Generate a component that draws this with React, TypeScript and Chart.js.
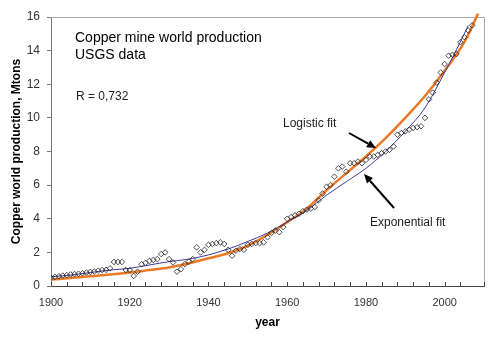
import React, { useEffect, useRef } from "react";
import { Chart, registerables } from "chart.js";
Chart.register(...registerables);

const years = [
  1900, 1901, 1902, 1903, 1904, 1905, 1906, 1907, 1908, 1909,
  1910, 1911, 1912, 1913, 1914, 1915, 1916, 1917, 1918, 1919,
  1920, 1921, 1922, 1923, 1924, 1925, 1926, 1927, 1928, 1929,
  1930, 1931, 1932, 1933, 1934, 1935, 1936, 1937, 1938, 1939,
  1940, 1941, 1942, 1943, 1944, 1945, 1946, 1947, 1948, 1949,
  1950, 1951, 1952, 1953, 1954, 1955, 1956, 1957, 1958, 1959,
  1960, 1961, 1962, 1963, 1964, 1965, 1966, 1967, 1968, 1969,
  1970, 1971, 1972, 1973, 1974, 1975, 1976, 1977, 1978, 1979,
  1980, 1981, 1982, 1983, 1984, 1985, 1986, 1987, 1988, 1989,
  1990, 1991, 1992, 1993, 1994, 1995, 1996, 1997, 1998, 1999,
  2000, 2001, 2002, 2003, 2004, 2005, 2006, 2007,
];

const production = [
  0.5, 0.54, 0.58, 0.62, 0.65, 0.69, 0.71, 0.73, 0.76, 0.8,
  0.84, 0.86, 0.91, 0.95, 0.96, 1.05, 1.43, 1.43, 1.43, 0.95,
  0.95, 0.6, 0.85, 1.3, 1.37, 1.49, 1.55, 1.6, 1.9, 2.0,
  1.6, 1.4, 0.85, 1.0, 1.3, 1.45, 1.6, 2.3, 2.0, 2.15,
  2.45, 2.5, 2.55, 2.6, 2.5, 2.15, 1.8, 2.1, 2.2, 2.15,
  2.45, 2.5, 2.55, 2.55, 2.6, 2.9, 3.15, 3.3, 3.2, 3.5,
  4.0, 4.1, 4.2, 4.3, 4.45, 4.55, 4.6, 4.7, 5.1, 5.5,
  5.9, 6.0, 6.5, 7.0, 7.1, 6.8, 7.3, 7.3, 7.4, 7.3,
  7.5, 7.7, 7.7, 7.8, 7.9, 8.0, 8.1, 8.3, 9.0, 9.1,
  9.2, 9.3, 9.4, 9.45, 9.5, 10.0, 11.1, 11.5, 12.1, 12.7,
  13.2, 13.7, 13.75, 13.8, 14.5, 14.8, 15.2, 15.5,
];

const logisticYears = [
  1900, 1905, 1910, 1915, 1920, 1925, 1930, 1935, 1940, 1945, 1950, 1955,
  1960, 1965, 1970, 1975, 1980, 1985, 1990, 1995, 2000, 2005, 2008.5,
];
const logisticFit = [
  0.38, 0.48, 0.58, 0.68, 0.8, 0.95, 1.1, 1.35, 1.65, 1.95, 2.4, 3.05,
  3.8, 4.6, 5.7, 6.7, 7.7, 8.8, 10.0, 11.3, 12.8, 14.5, 16.2,
];

const exponentialYears = [
  1900, 1905, 1910, 1915, 1920, 1925, 1930, 1935, 1940, 1945, 1950, 1955,
  1960, 1965, 1970, 1975, 1980, 1985, 1990, 1995, 2000, 2005, 2006,
];
const exponentialFit = [
  0.55, 0.65, 0.8, 0.95, 1.05, 1.25, 1.45, 1.6, 1.85, 2.2, 2.65, 3.15,
  3.8, 4.5, 5.4, 6.2, 7.0, 8.0, 9.2, 10.6, 12.7, 15.0, 15.5,
];

const xLabelYears = [1900, 1920, 1940, 1960, 1980, 2000];

const titleLines = ["Copper mine world production", "USGS data"];
const rText = "R = 0,732";
const logisticLabel = "Logistic fit";
const exponentialLabel = "Exponential fit";
const xTitle = "year";
const yTitle = "Copper world production, Mtons";

const FONT = "'Liberation Sans', Arial, sans-serif";

function arrow(ctx: CanvasRenderingContext2D, x1: number, y1: number, x2: number, y2: number) {
  const ang = Math.atan2(y2 - y1, x2 - x1);
  const head = 9;
  const hw = 4;
  const bx = x2 - head * Math.cos(ang);
  const by = y2 - head * Math.sin(ang);
  ctx.save();
  ctx.strokeStyle = "#000";
  ctx.fillStyle = "#000";
  ctx.lineWidth = 2;
  ctx.beginPath();
  ctx.moveTo(x1, y1);
  ctx.lineTo(bx, by);
  ctx.stroke();
  ctx.beginPath();
  ctx.moveTo(x2, y2);
  ctx.lineTo(bx + hw * Math.sin(ang), by - hw * Math.cos(ang));
  ctx.lineTo(bx - hw * Math.sin(ang), by + hw * Math.cos(ang));
  ctx.closePath();
  ctx.fill();
  ctx.restore();
}

const decorPlugin = {
  id: "decor",
  beforeDatasetsDraw(chart: any) {
    const { ctx, chartArea } = chart;
    ctx.save();
    ctx.strokeStyle = "#a8a8a8";
    ctx.lineWidth = 1;
    ctx.beginPath();
    ctx.moveTo(chartArea.left, chartArea.top + 0.5);
    ctx.lineTo(chartArea.right + 0.5, chartArea.top + 0.5);
    ctx.lineTo(chartArea.right + 0.5, chartArea.bottom);
    ctx.stroke();
    // inside x tick marks
    const xs = chart.scales.x;
    ctx.strokeStyle = "#444";
    ctx.beginPath();
    xs.ticks.forEach((t: any) => {
      const px = Math.round(xs.getPixelForValue(t.value)) + 0.5;
      ctx.moveTo(px, chartArea.bottom);
      ctx.lineTo(px, chartArea.bottom - 4);
    });
    ctx.stroke();
    ctx.restore();
  },
  afterDraw(chart: any) {
    const { ctx } = chart;
    ctx.save();
    ctx.fillStyle = "#000";
    ctx.textBaseline = "alphabetic";
    ctx.textAlign = "left";
    ctx.font = `14px ${FONT}`;
    ctx.fillText(titleLines[0], 75, 42);
    ctx.fillText(titleLines[1], 75, 59);
    ctx.font = `12px ${FONT}`;
    ctx.fillStyle = "#222";
    ctx.fillText(rText, 76, 100);
    ctx.fillText(logisticLabel, 283, 127);
    ctx.fillText(exponentialLabel, 370, 226);
    ctx.restore();
    arrow(ctx, 349, 133, 376, 148);
    arrow(ctx, 394, 208, 364, 174);
  },
};

export default function App() {
  const ref = useRef<HTMLCanvasElement | null>(null);
  useEffect(() => {
    if (!ref.current) return;
    const chart = new Chart(ref.current, {
      type: "scatter",
      data: {
        datasets: [
          {
            label: "production",
            data: years.map((y, i) => ({ x: y, y: production[i] })),
            pointStyle: "rectRot",
            pointRadius: 2.8,
            pointBorderWidth: 0.8,
            pointBorderColor: "#222",
            pointBackgroundColor: "rgba(255,255,255,0)",
            showLine: false,
          },
          {
            label: "exponential",
            data: exponentialYears.map((y, i) => ({ x: y, y: exponentialFit[i] })),
            showLine: true,
            borderColor: "#3c3c9c",
            borderWidth: 1,
            pointRadius: 0,
            cubicInterpolationMode: "monotone",
          },
          {
            label: "logistic",
            data: logisticYears.map((y, i) => ({ x: y, y: logisticFit[i] })),
            showLine: true,
            borderColor: "#ea7a26",
            borderWidth: 2.5,
            pointRadius: 0,
            cubicInterpolationMode: "monotone",
            clip: false,
          },
        ],
      } as any,
      options: {
        animation: false,
        responsive: false,
        devicePixelRatio: 1,
        layout: { padding: { left: 0, top: 17, right: 16, bottom: 0 } },
        plugins: { legend: { display: false }, tooltip: { enabled: false } },
        scales: {
          x: {
            type: "linear",
            min: 1900,
            max: 2010,
            afterFit: (s: any) => {
              s.height = 54;
            },
            border: { display: true, color: "#444", width: 1 },
            grid: { display: false, drawTicks: false },
            ticks: {
              stepSize: 4,
              autoSkip: false,
              maxRotation: 0,
              padding: 10,
              color: "#333",
              font: { family: FONT, size: 11 },
              callback: (v: any) => (xLabelYears.includes(Number(v)) ? String(v) : ""),
            },
            title: {
              display: true,
              text: xTitle,
              color: "#000",
              font: { family: FONT, size: 12, weight: "bold" },
              padding: { top: 0, bottom: 10 },
            },
          },
          y: {
            min: 0,
            max: 16,
            afterFit: (s: any) => {
              s.width = 51;
            },
            border: { display: true, color: "#777", width: 1 },
            grid: { drawOnChartArea: false, drawTicks: true, tickLength: 4, color: "#777" },
            ticks: {
              stepSize: 2,
              padding: 7,
              color: "#333",
              font: { family: FONT, size: 12 },
            },
            title: {
              display: true,
              text: yTitle,
              color: "#000",
              font: { family: FONT, size: 12, weight: "bold" },
              padding: { top: 9, bottom: 0 },
            },
          },
        },
      } as any,
      plugins: [decorPlugin],
    });
    return () => chart.destroy();
  }, []);
  return (
    <div style={{ position: "absolute", left: 0, top: 0, width: 500, height: 340, background: "#fff" }}>
      <canvas ref={ref} width={500} height={340} />
    </div>
  );
}
